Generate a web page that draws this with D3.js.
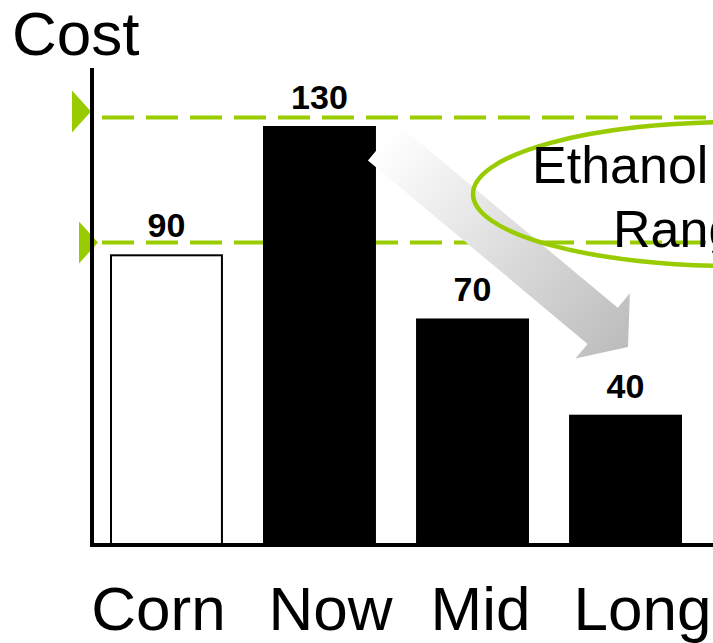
<!DOCTYPE html>
<html>
<head>
<meta charset="utf-8">
<script src="https://cdn.jsdelivr.net/npm/d3@7"></script>
<style>
  html, body { margin: 0; padding: 0; background: #fff; }
  svg { display: block; font-family: "Liberation Sans", Arial, sans-serif; }
</style>
</head>
<body>
<script>
// ---- data ----
const categories = ["Corn", "Now", "Mid", "Long"];
const costValues = [90, 130, 70, 40];
const barFills = ["#ffffff", "#000000", "#000000", "#000000"];
const rangeValues = [133, 94];          // ethanol cost range (dashed lines)
const titleText = "Cost";
const calloutLines = ["Ethanol", "Range"];

// ---- layout ----
const W = 713, H = 643;
const green = "#99cc00";
const labelNudge = [-8, 11, 8, 17];
const svg = d3.select("body").append("svg").attr("width", W).attr("height", H);

const x = d3.scaleBand().domain(categories).range([111, 681]).paddingInner(0.275).paddingOuter(0);
const y = d3.scaleLinear().domain([0, 130]).range([544, 127]);
const axisY = 545, axisX = 92;

// gradient for arrow
const defs = svg.append("defs");
const arrowStart = [383, 142.5], arrowEnd = [628, 347];
const grad = defs.append("linearGradient").attr("id", "arrowGrad")
  .attr("gradientUnits", "userSpaceOnUse")
  .attr("x1", arrowStart[0]).attr("y1", arrowStart[1])
  .attr("x2", arrowEnd[0]).attr("y2", arrowEnd[1]);
grad.append("stop").attr("offset", 0).attr("stop-color", "#ffffff");
grad.append("stop").attr("offset", 1).attr("stop-color", "#bcbcbc");

// dashed range lines
svg.append("g").selectAll("line").data(rangeValues).join("line")
  .attr("x1", 102).attr("x2", W)
  .attr("y1", d => y(d)).attr("y2", d => y(d))
  .attr("stroke", green).attr("stroke-width", 4)
  .attr("stroke-dasharray", "32 12");

// bars
svg.append("g").selectAll("rect").data(costValues).join("rect")
  .attr("x", (d, i) => x(categories[i]))
  .attr("width", x.bandwidth())
  .attr("y", d => y(d))
  .attr("height", d => axisY - y(d))
  .attr("fill", (d, i) => barFills[i])
  .attr("stroke", "#000").attr("stroke-width", 2);

// value labels
svg.append("g").selectAll("text").data(costValues).join("text")
  .attr("x", (d, i) => x(categories[i]) + x.bandwidth() / 2)
  .attr("y", d => y(d) - 18)
  .attr("text-anchor", "middle")
  .attr("font-weight", "bold").attr("font-size", 34)
  .text(d => d);

// range markers (triangles)
const markerShift = [[0, -6], [7, 0]];
svg.append("g").selectAll("path").data(rangeValues).join("path")
  .attr("d", (d, i) => {
    const cy = y(d) + markerShift[i][1], x0 = 72 + markerShift[i][0];
    return `M${x0},${cy - 21}L${x0 + 19},${cy}L${x0},${cy + 21}Z`;
  })
  .attr("fill", green);

// axes
svg.append("line").attr("x1", axisX).attr("x2", axisX).attr("y1", 68).attr("y2", axisY + 2)
  .attr("stroke", "#000").attr("stroke-width", 4);
svg.append("line").attr("x1", axisX - 2).attr("x2", W).attr("y1", axisY).attr("y2", axisY)
  .attr("stroke", "#000").attr("stroke-width", 4);

// category labels
svg.append("g").selectAll("text").data(categories).join("text")
  .attr("x", (d, i) => x(d) + x.bandwidth() / 2 + labelNudge[i])
  .attr("y", 630)
  .attr("text-anchor", "middle")
  .attr("font-size", 62)
  .text(d => d);

// title
svg.append("text").attr("x", 12).attr("y", 55).attr("font-size", 62).text(titleText);

// gradient arrow
(function () {
  const [tx, ty] = arrowStart, [ex, ey] = arrowEnd;
  const dx = ex - tx, dy = ey - ty, L = Math.hypot(dx, dy);
  const ux = dx / L, uy = dy / L, nx = -uy, ny = ux;
  const hw = 23.5, hhw = 42.5, hl = 33;
  const bx = ex - ux * hl, by = ey - uy * hl;
  const pts = [
    [tx + nx * hw, ty + ny * hw],
    [bx + nx * hw, by + ny * hw],
    [bx + nx * hhw, by + ny * hhw],
    [ex, ey],
    [bx - nx * hhw, by - ny * hhw],
    [bx - nx * hw, by - ny * hw],
    [tx - nx * hw, ty - ny * hw]
  ];
  svg.append("path").attr("d", "M" + pts.map(p => p.join(",")).join("L") + "Z")
    .attr("fill", "url(#arrowGrad)");
})();

// callout ellipse
svg.append("ellipse").attr("cx", 735).attr("cy", 194).attr("rx", 262).attr("ry", 72)
  .attr("fill", "none").attr("stroke", green).attr("stroke-width", 4.5);

svg.append("text").attr("x", 532).attr("y", 183).attr("font-size", 52).text(calloutLines[0]);
svg.append("text").attr("x", 613).attr("y", 247).attr("font-size", 52).text(calloutLines[1]);
</script>
</body>
</html>
